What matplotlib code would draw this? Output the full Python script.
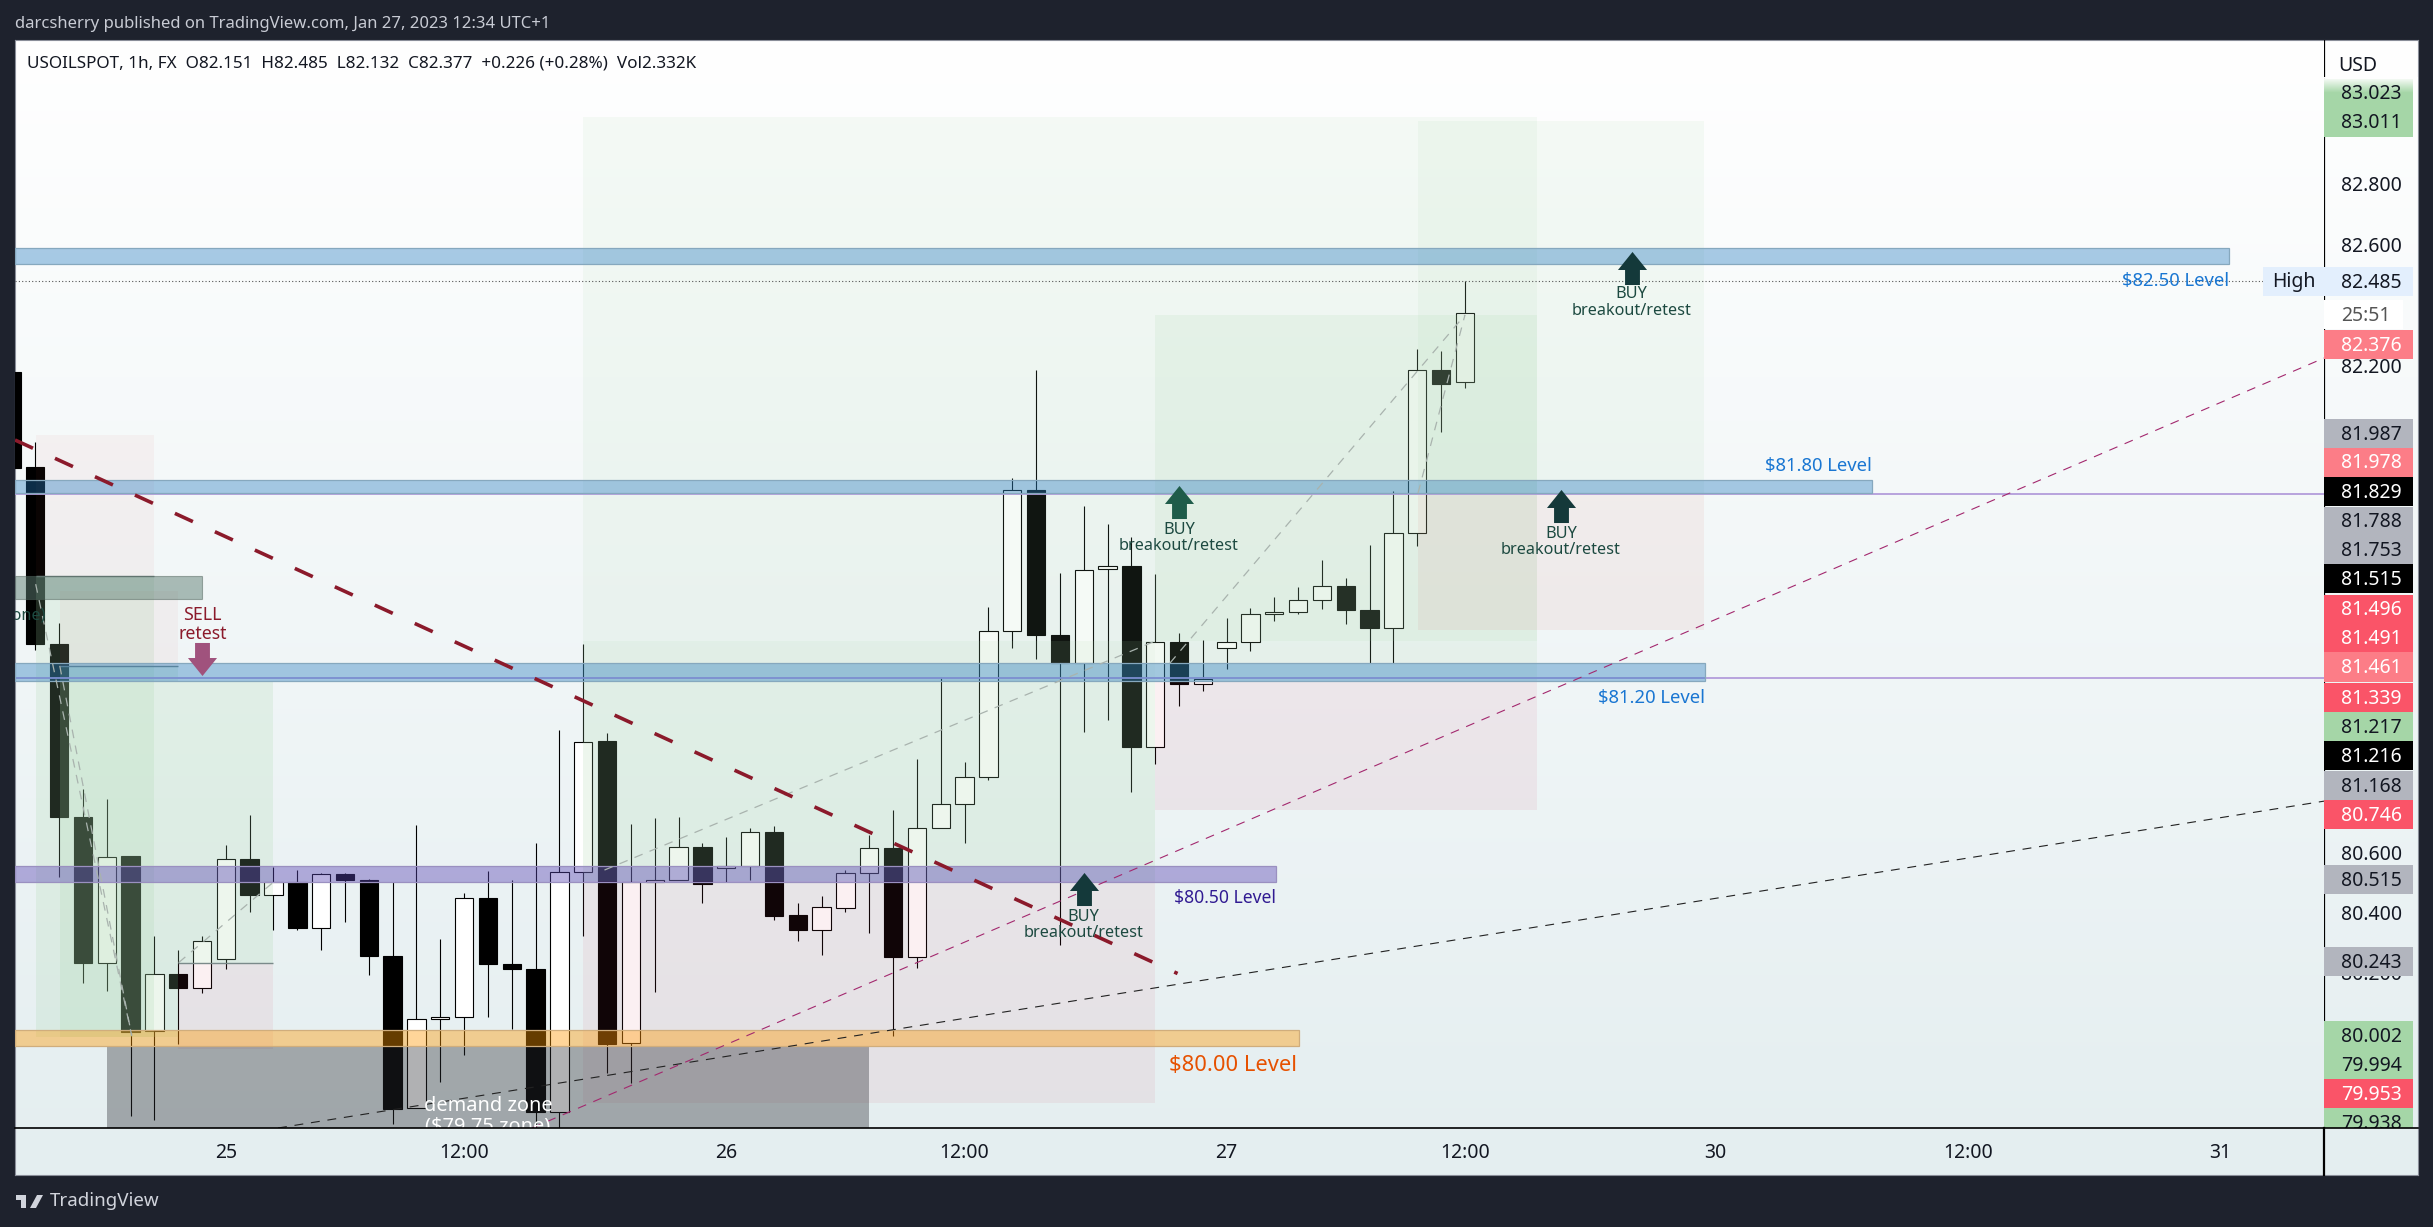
import numpy as np
import matplotlib
matplotlib.use("Agg")
import matplotlib.pyplot as plt
from matplotlib.patches import Rectangle, Polygon
from matplotlib.path import Path

plt.rcParams['font.family'] = 'Noto Sans'

W, H = 2433, 1227

# Candles, oldest first (bar index -1 is the one cut off at the left edge)
opens = [82.184, 81.870, 81.287, 80.717, 80.238, 80.589, 80.011, 80.201, 80.155, 80.251, 80.581,
         80.460, 80.502, 80.351, 80.529, 80.509, 80.261, 79.759, 80.051, 80.060, 80.450, 80.235,
         80.216, 79.747, 80.535, 80.967, 79.972, 80.502, 80.509, 80.618, 80.549, 80.557, 80.667,
         80.394, 80.347, 80.419, 80.532, 80.616, 80.258, 80.680, 80.759, 80.848, 81.332, 81.794,
         81.318, 81.224, 81.535, 81.544, 80.947, 81.296, 81.157, 81.273, 81.296, 81.386, 81.392,
         81.434, 81.480, 81.401, 81.342, 81.654, 82.189, 82.151]
highs = [82.184, 81.952, 81.357, 80.809, 80.777, 80.589, 80.325, 80.278, 80.327, 80.624, 80.725,
         80.552, 80.544, 80.534, 80.534, 80.512, 80.503, 80.692, 80.315, 80.466, 80.539, 80.510,
         80.633, 81.004, 81.288, 80.994, 80.695, 80.715, 80.717, 80.631, 80.651, 80.680, 80.688,
         80.435, 80.458, 80.542, 80.659, 80.740, 80.908, 81.177, 80.900, 81.409, 81.836, 82.191,
         81.522, 81.742, 81.683, 81.639, 81.518, 81.323, 81.301, 81.374, 81.407, 81.443, 81.475,
         81.564, 81.505, 81.614, 81.791, 82.261, 82.253, 82.485]
lows = [81.868, 81.267, 80.519, 80.172, 80.145, 79.733, 79.718, 79.969, 80.137, 80.216, 80.406,
        80.344, 80.344, 80.278, 80.372, 80.196, 79.705, 79.759, 79.846, 79.935, 80.060, 80.019,
        79.680, 79.680, 80.324, 79.875, 79.841, 80.140, 80.509, 80.433, 80.502, 80.509, 80.377,
        80.309, 80.264, 80.404, 80.337, 79.997, 80.219, 80.680, 80.631, 80.841, 81.273, 81.239,
        80.295, 80.999, 81.036, 80.799, 80.891, 81.085, 81.132, 81.207, 81.266, 81.365, 81.386,
        81.404, 81.354, 81.224, 81.224, 81.612, 81.987, 82.132]
closes = [81.868, 81.287, 80.717, 80.238, 80.587, 80.009, 80.199, 80.155, 80.310, 80.581, 80.460,
          80.502, 80.351, 80.529, 80.509, 80.261, 79.757, 80.051, 80.060, 80.450, 80.235, 80.216,
          79.747, 80.535, 80.966, 79.971, 80.502, 80.509, 80.618, 80.498, 80.557, 80.667, 80.392,
          80.347, 80.421, 80.532, 80.614, 80.258, 80.680, 80.759, 80.848, 81.332, 81.794, 81.318,
          81.224, 81.533, 81.544, 80.947, 81.296, 81.157, 81.174, 81.296, 81.386, 81.392, 81.434,
          81.480, 81.401, 81.342, 81.654, 82.189, 82.145, 82.377]

# Time axis
time_ticks = [8, 18, 29, 39, 50, 60, 70.5, 81.1, 91.7]
time_labels = ['25', '12:00', '26', '12:00', '27', '12:00', '30', '12:00', '31']

# Level bands: bottom price, top price, right end bar
band_low = [82.539, 81.784, 81.165, 80.505, 79.962]
band_high = [82.591, 81.827, 81.224, 80.555, 80.017]
band_end = [92.05, 77.07, 70.06, 52.05, 53.05]

# Long / short position boxes: start bar, end bar, prices
green_x0 = [23.0, 23.0, 47.0, 58.03, 0.02, 1.03, 6.0]
green_x1 = [63.02, 47.0, 63.02, 70.03, 4.99, 6.0, 10.0]
green_top = [83.023, 81.298, 82.372, 83.011, 81.512, 81.216, 81.166]
green_bot = [81.298, 80.508, 81.166, 81.785, 79.994, 79.994, 80.238]
green_alpha = [0.1, 0.2, 0.14, 0.1, 0.2, 0.2, 0.2]
red_x0 = [23.0, 47.0, 58.03, 0.02, 1.03, 6.0]
red_x1 = [47.0, 63.02, 70.03, 4.99, 6.0, 10.0]
red_top = [80.508, 81.166, 81.785, 81.978, 81.461, 80.238]
red_bot = [79.775, 80.741, 81.334, 81.512, 81.216, 79.953]
red_alpha = [0.08, 0.08, 0.07, 0.05, 0.05, 0.08]
red_col = ['#d04060', '#d04060', '#d0504a', '#d0504a', '#d0504a', '#d04060']

# Trend lines: bar/price end points
trend_x = [-0.848, 47.94]
trend_y = [81.96, 80.202]
rise1_x = [20.85, 96.05]
rise1_y = [79.693, 82.23]
rise2_x = [10.19, 96.05]
rise2_y = [79.693, 80.770]
path_x0 = [0.02, 1.03, 6.02, 23.89, 47.62, 58.03]
path_y0 = [81.485, 81.216, 80.238, 80.543, 81.225, 81.785]
path_x1 = [4.05, 4.05, 9.98, 47.02, 60.0, 60.0]
path_y1 = [79.997, 79.997, 80.502, 81.298, 82.372, 82.372]

# BUY arrows and their notes
buy_x = [48.0, 64.03, 44.0, 67.0]
buy_y = [81.757, 81.744, 80.480, 82.528]
buy_line1 = [81.664, 81.651, 80.387, 82.440]
buy_line2 = [81.610, 81.598, 80.335, 82.384]

# Right hand price scale: text, slot on the scale (price height), kind
scale_text = ['83.023', '83.011', '82.800', '82.600', '82.485', '25:51', '82.376', '82.200', '81.987',
              '81.978', '81.829', '81.788', '81.753', '81.515', '81.496', '81.491', '81.461', '81.339',
              '81.217', '81.216', '81.168', '80.746', '80.600', '80.515', '80.400', '80.200', '80.243',
              '80.002', '79.994', '79.953', '79.938']
scale_slot = [83.103, 83.007, 82.800, 82.599, 82.482, 82.372, 82.274, 82.200, 81.981,
              81.887, 81.790, 81.693, 81.597, 81.503, 81.403, 81.307, 81.212, 81.112,
              81.016, 80.920, 80.821, 80.725, 80.598, 80.512, 80.400, 80.200, 80.240,
              79.998, 79.902, 79.807, 79.711]
scale_kind = ['green', 'green', 'tick', 'tick', 'high', 'clock', 'pale', 'tick', 'gray',
              'pale', 'black', 'gray', 'gray', 'black', 'red', 'red', 'pale', 'red',
              'green', 'black', 'gray', 'red', 'tick', 'gray', 'tick', 'tick', 'gray',
              'green', 'green', 'red', 'green']
kind_fill = {'green': '#a5d6a7', 'high': '#e3effd', 'clock': '#ffffff', 'pale': '#fc7d87', 'gray': '#b2b5be',
             'black': '#000000', 'red': '#fa5468'}
kind_text = {'green': '#131722', 'tick': '#131722', 'high': '#131722', 'clock': '#555555', 'pale': '#ffffff',
             'gray': '#131722', 'black': '#ffffff', 'red': '#ffffff'}

YMIN, YMAX = 79.693, 83.278
XMIN, XMAX = -0.848, 96.05


def px_box(x0, y0, x1, y1):
    return [x0 / W, 1 - y1 / H, (x1 - x0) / W, (y1 - y0) / H]


fig = plt.figure(figsize=(W / 100, H / 100), dpi=100, facecolor='#1e222d')

# Gradient background of the whole chart panel
bg = fig.add_axes(px_box(15, 40, 2418, 1175), zorder=0)
top_c = np.array([1.0, 1.0, 1.0])
bot_c = np.array([228, 238, 240]) / 255
grad = np.linspace(0, 1, 256)[:, None, None] * (bot_c - top_c) + top_c
bg.imshow(grad, aspect='auto', extent=(0, 1, 0, 1))
bg.set_xticks([])
bg.set_yticks([])
for s in bg.spines.values():
    s.set_color('#8a8e99')
    s.set_linewidth(0.8)

ax = fig.add_axes(px_box(15, 40, 2324, 1128), zorder=2)
ax.patch.set_visible(False)
ax.set_xlim(XMIN, XMAX)
ax.set_ylim(YMIN, YMAX)
for s in ax.spines.values():
    s.set_visible(False)
ax.set_yticks([])
ax.set_xticks(time_ticks)
ax.set_xticklabels(time_labels, fontsize=14, color='#131722')
ax.tick_params(axis='x', length=0, pad=11)

# Candles
xs = np.arange(-1, len(opens) - 1)
o = np.array(opens)
c = np.array(closes)
ax.vlines(xs, lows, highs, color='black', lw=0.8, zorder=2)
ax.bar(xs, np.abs(c - o), bottom=np.minimum(o, c), width=0.77,
       color=['white' if cl >= op else 'black' for op, cl in zip(o, c)],
       edgecolor='black', linewidth=0.8, zorder=2.1)

# Position boxes
for i in range(len(green_x0)):
    ax.add_patch(Rectangle((green_x0[i], green_bot[i]), green_x1[i] - green_x0[i], green_top[i] - green_bot[i],
                           facecolor='#a5d6a7', alpha=green_alpha[i], lw=0, zorder=3))
for i in range(len(red_x0)):
    ax.add_patch(Rectangle((red_x0[i], red_bot[i]), red_x1[i] - red_x0[i], red_top[i] - red_bot[i],
                           facecolor=red_col[i], alpha=red_alpha[i], lw=0, zorder=3))

# Entry lines of the small boxes on the left
ax.hlines([81.512, 81.216, 80.238], [0.02, 1.03, 6.0], [4.99, 6.0, 10.0], color='#7a8a8a', lw=1.0, zorder=3.1)

# Demand zone and the grey zone at the left
ax.add_patch(Rectangle((3.01, 79.6), 32.0, 79.962 - 79.6, facecolor=(43 / 255, 45 / 255, 50 / 255), alpha=0.37,
                       edgecolor='none', zorder=3.2))
ax.add_patch(Rectangle((XMIN, 81.435), 7.02 - XMIN, 81.512 - 81.435, facecolor='#5f7f74', alpha=0.5,
                       edgecolor='#50635c', lw=0.8, zorder=3.2))

# Horizontal level bands
band_col = [(33 / 255, 120 / 255, 190 / 255)] * 3 + [(90 / 255, 70 / 255, 180 / 255), (1.0, 152 / 255, 0.0)]
band_alpha = [0.38, 0.38, 0.38, 0.42, 0.4]
band_edge = ['#86a8be', '#86a8be', '#86a8be', '#9a90c0', '#d0ad7c']
for lo, hi, end, col, al, ed in zip(band_low, band_high, band_end, band_col, band_alpha, band_edge):
    ax.add_patch(Rectangle((XMIN, lo), end - XMIN, hi - lo, facecolor=col + (al,), edgecolor=ed, lw=0.9, zorder=3.4))

# Price lines running to the scale
ax.axhline(81.783, color='#b39ddb', lw=1.3, zorder=3.3)
ax.axhline(81.177, color='#b39ddb', lw=1.3, zorder=3.3)
ax.hlines(82.485, XMIN, 93.49, color='#555555', lw=0.8, linestyles=(0, (1, 2)), zorder=3.3)

# Trend lines
ax.plot(trend_x, trend_y, color='#8b1a2b', lw=2.6, dashes=(5.48, 6.7), dash_capstyle='butt', zorder=4)
ax.plot(rise1_x, rise1_y, color='#a3286e', lw=0.8, dashes=(8, 7), zorder=4)
ax.plot(rise2_x, rise2_y, color='#222222', lw=0.8, dashes=(8, 7), zorder=4)
for i in range(len(path_x0)):
    ax.plot([path_x0[i], path_x1[i]], [path_y0[i], path_y1[i]], color='#a9b3ae', lw=0.9, dashes=(7, 6), zorder=3.6)

# Arrows as a path marker
up_arrow = Path([(0, 1), (0.88, -0.09), (0.45, -0.09), (0.45, -1), (-0.45, -1), (-0.45, -0.09), (-0.88, -0.09), (0, 1)],
                closed=True)
down_arrow = Path([(0, -1), (0.88, 0.09), (0.45, 0.09), (0.45, 1), (-0.45, 1), (-0.45, 0.09), (-0.88, 0.09), (0, -1)],
                  closed=True)
ax.plot(buy_x[:1], buy_y[:1], marker=up_arrow, ms=23.8, color='#1f5c4a', mew=0, ls='none', zorder=5)
ax.plot(buy_x[1:], buy_y[1:], marker=up_arrow, ms=23.8, color='#14393a', mew=0, ls='none', zorder=5)
ax.plot([7.02], [81.237], marker=down_arrow, ms=23.8, color='#a0527d', mew=0, ls='none', zorder=5)

note_col = '#1d4a41'
for x, y1, y2 in zip(buy_x, buy_line1, buy_line2):
    ax.text(x, y1, 'BUY', fontsize=11.7, color=note_col, ha='center', va='center', zorder=6)
    ax.text(x, y2, 'breakout/retest', fontsize=11.7, color=note_col, ha='center', va='center', zorder=6)
ax.text(7.02, 81.384, 'SELL', fontsize=12.8, color='#8b1a2b', ha='center', va='center', zorder=6)
ax.text(7.02, 81.322, 'retest', fontsize=12.8, color='#8b1a2b', ha='center', va='center', zorder=6)

# Level labels
ax.text(92.05, 82.485, '$82.50 Level', fontsize=13.3, color='#1976d2', ha='right', va='center', zorder=6)
ax.text(77.07, 81.873, '$81.80 Level', fontsize=13.3, color='#1976d2', ha='right', va='center', zorder=6)
ax.text(70.06, 81.109, '$81.20 Level', fontsize=13.3, color='#1976d2', ha='right', va='center', zorder=6)
ax.text(52.05, 80.450, '$80.50 Level', fontsize=12.6, color='#311b92', ha='right', va='center', zorder=6)
ax.text(52.95, 79.900, '$80.00 Level', fontsize=15.8, color='#e65100', ha='right', va='center', zorder=6)

# Zone captions, both cut by the pane
ax.text(19.0, 79.765, 'demand zone', fontsize=14.4, color='white', ha='center', va='center', zorder=6, clip_on=True)
ax.text(19.0, 79.699, '($79.75 zone)', fontsize=14.4, color='white', ha='center', va='center', zorder=6, clip_on=True)
ax.text(0.45, 81.382, 'zone)', fontsize=11.7, color=note_col, ha='right', va='center', zorder=6, clip_on=True)

# High marker
ax.add_patch(Rectangle((93.49, 82.482 - 0.048), 96.05 - 93.49, 0.096, facecolor='#e3effd', lw=0, zorder=6))
ax.text(94.77, 82.482, 'High', fontsize=14, color='#131722', ha='center', va='center', zorder=7)

# Price scale
sc = fig.add_axes(px_box(2324, 40, 2418, 1128), zorder=3)
sc.patch.set_visible(False)
sc.set_xticks([])
sc.set_yticks([])
for s in sc.spines.values():
    s.set_visible(False)
sc.axvline(0, color='black', lw=1.6, zorder=1)
for txt, slot, kind in zip(scale_text, scale_slot, scale_kind):
    if kind in kind_fill:
        width = 79 if kind == 'clock' else 88.7
        sc.add_patch(Rectangle((0, slot - 0.0478), width, 0.0956, facecolor=kind_fill[kind], lw=0, zorder=2))
    z = 1.5 if txt == '80.200' else 3
    bold = 'bold' if kind in ('pale', 'black', 'red') else 'normal'
    sc.text(17, slot - 0.004, txt, fontsize=14, color=kind_text[kind], fontweight=bold, ha='left', va='center',
            zorder=z, clip_on=True)
sc.text(14, 83.193, 'USD', fontsize=14, color='#131722', ha='left', va='center', zorder=3)

# Fade on top of the first green label
fade = np.ones((32, 1, 4))
fade[:, 0, 3] = np.linspace(1, 0, 32)
sc.imshow(fade, aspect='auto', extent=(0, 94, 83.103, 83.155), zorder=2.5)
sc.set_xlim(0, 94)
sc.set_ylim(YMIN, YMAX)

# Axis strip lines drawn in figure space
fig.add_artist(plt.Line2D([15 / W, 2418 / W], [1 - 1128 / H] * 2, color='black', lw=1.2, zorder=4))
fig.add_artist(plt.Line2D([2324 / W] * 2, [1 - 1175 / H, 1 - 1128 / H], color='black', lw=1.6, zorder=4))

# Header and footer
fig.text(15 / W, 1 - 24 / H, 'darcsherry published on TradingView.com, Jan 27, 2023 12:34 UTC+1',
         fontsize=12, color='#c8cbd4', ha='left', va='center')
fig.text(27 / W, 1 - 63 / H, 'USOILSPOT, 1h, FX  O82.151  H82.485  L82.132  C82.377  +0.226 (+0.28%)  Vol2.332K',
         fontsize=12.3, color='#131722', ha='left', va='center', zorder=10)
fig.text(50 / W, 1 - 1201 / H, 'TradingView', fontsize=13.5, color='#d1d4dc', ha='left', va='center')

# TradingView logo
logo_col = '#d1d4dc'
fig.add_artist(Polygon([(16 / W, 1 - 1195 / H), (26 / W, 1 - 1195 / H), (26 / W, 1 - 1208 / H), (21 / W, 1 - 1208 / H),
                        (21 / W, 1 - 1200 / H), (16 / W, 1 - 1200 / H)], closed=True, color=logo_col, lw=0,
                       transform=fig.transFigure))
fig.add_artist(Polygon([(37 / W, 1 - 1195 / H), (43 / W, 1 - 1195 / H), (36 / W, 1 - 1208 / H), (30 / W, 1 - 1208 / H)],
                       closed=True, color=logo_col, lw=0, transform=fig.transFigure))

fig.savefig('out.png', dpi=100, facecolor=fig.get_facecolor())
